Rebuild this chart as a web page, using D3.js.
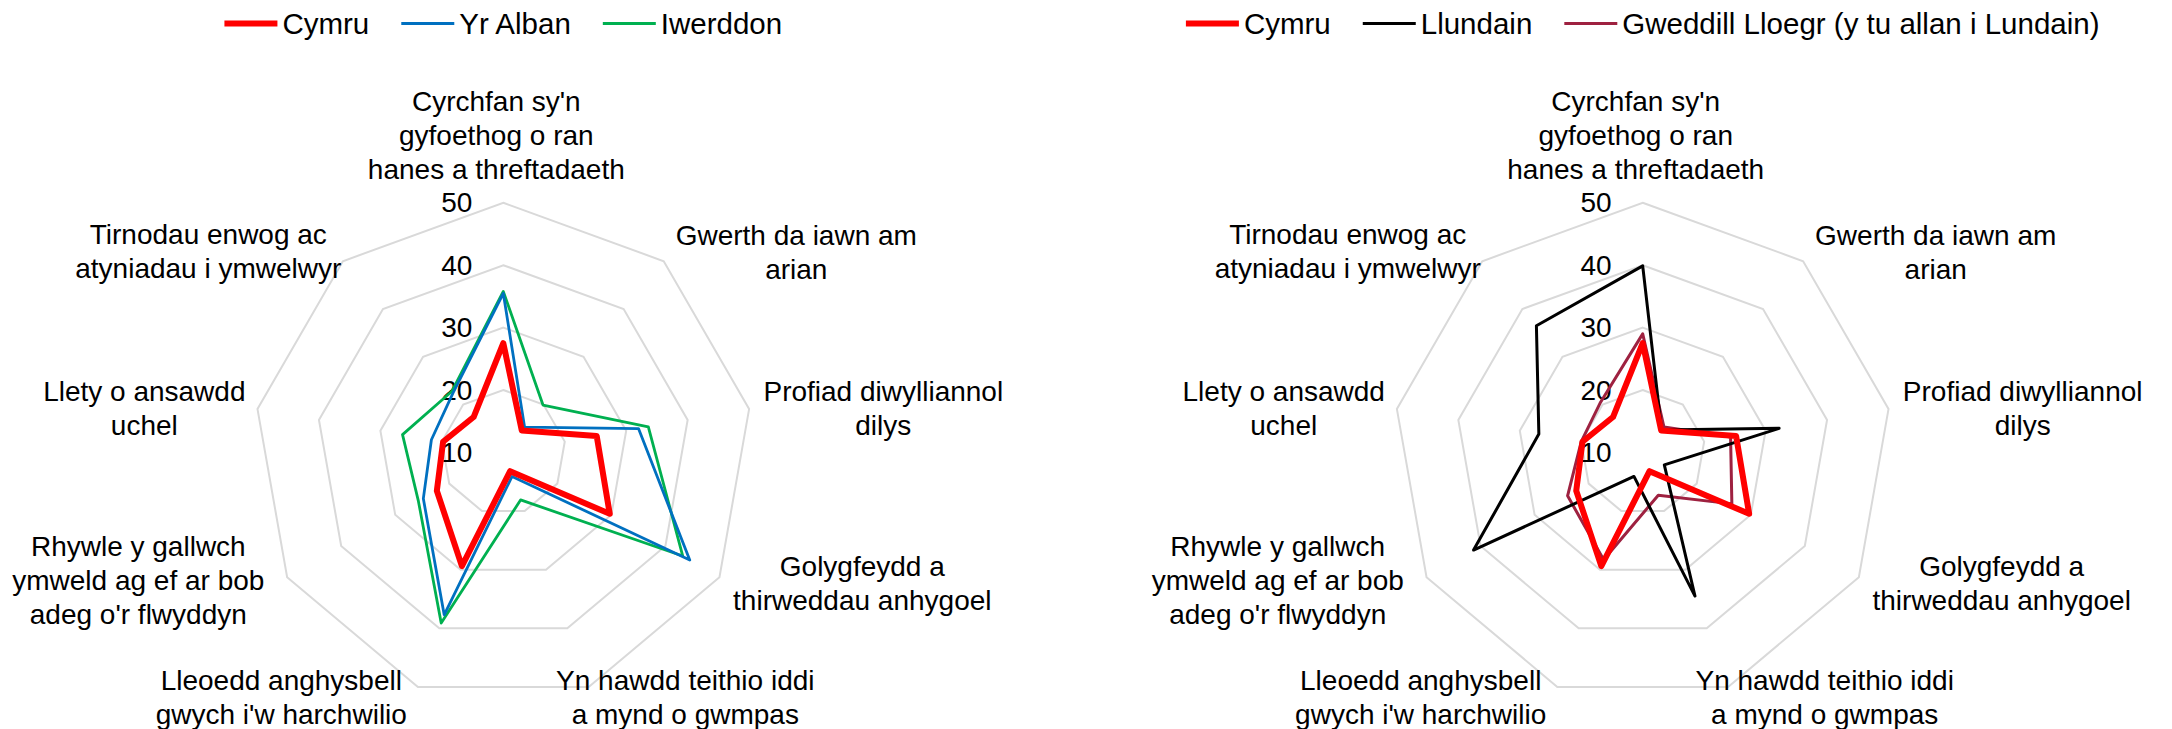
<!DOCTYPE html>
<html>
<head>
<meta charset="utf-8">
<script src="https://cdn.jsdelivr.net/npm/d3@7"></script>
<style>
  body { margin: 0; background: #fff; }
  text { font-family: "Liberation Sans", Arial, sans-serif; fill: #000; }
</style>
</head>
<body>
<svg id="chart"></svg>
<script>
// Axis categories (clockwise from the top)
const categories = [
    "Cyrchfan sy'n\ngyfoethog o ran\nhanes a threftadaeth",
    "Gwerth da iawn am\narian",
    "Profiad diwylliannol\ndilys",
    "Golygfeydd a\nthirweddau anhygoel",
    "Yn hawdd teithio iddi\na mynd o gwmpas",
    "Lleoedd anghysbell\ngwych i'w harchwilio",
    "Rhywle y gallwch\nymweld ag ef ar bob\nadeg o'r flwyddyn",
    "Llety o ansawdd\nuchel",
    "Tirnodau enwog ac\natyniadau i ymwelwyr"
];

const tickValues = [10, 20, 30, 40, 50];

// Series values, one per category
const cymru     = [27.5, 14.6, 25.2, 29.7, 13.2, 29.4, 22.3, 19.8, 17.4];
const yrAlban   = [35.5, 15.3, 32.0, 44.5, 14.1, 37.7, 24.8, 21.7, 22.5];
const iwerddon  = [35.8, 19.9, 33.6, 43.2, 18.1, 39.1, 25.7, 26.4, 22.8];
const llundain  = [39.9, 14.7, 32.2, 14.0, 34.5, 14.1, 41.3, 26.9, 36.5];
const gweddill  = [29.0, 15.3, 24.3, 26.5, 17.3, 28.3, 23.9, 20.0, 20.5];

// Chart setup
const W = 2172, H = 729;
const radius = 249.6;
const fontSize = 28;
const lineHeight = 34.3;

// Label block centres relative to the radar centre (layout only)
const labelOffset = [
    [-7, -317], [293, -200], [380, -44], [359, 131], [182, 245],
    [-222, 245], [-365, 128], [-359, -44], [-295, -201]
];

const leftSeries = [
    {name: "Cymru", values: cymru, color: "#FF0000", width: 6},
    {name: "Yr Alban", values: yrAlban, color: "#0070C0", width: 2.8},
    {name: "Iwerddon", values: iwerddon, color: "#00B050", width: 2.8}
];
const rightSeries = [
    {name: "Cymru", values: cymru, color: "#FF0000", width: 6},
    {name: "Llundain", values: llundain, color: "#000000", width: 3},
    {name: "Gweddill Lloegr (y tu allan i Lundain)", values: gweddill, color: "#9E2140", width: 3}
];

const svg = d3.select("#chart")
    .attr("width", W)
    .attr("height", H);

const rScale = d3.scaleLinear()
    .domain([10, 50])
    .range([0, radius]);

const angle = i => i * 2 * Math.PI / categories.length;

const radarLine = d3.lineRadial()
    .angle((d, i) => angle(i))
    .radius(d => rScale(d))
    .curve(d3.curveLinearClosed);

function drawRadar(cx, series) {
    const g = svg.append("g")
        .attr("transform", `translate(${cx}, 452.4)`);

    // grid rings
    tickValues.filter(t => t > 10).forEach(t => {
        g.append("path")
            .attr("d", radarLine(categories.map(() => t)))
            .attr("fill", "none")
            .attr("stroke", "#D9D9D9")
            .attr("stroke-width", 2);
    });

    // tick labels
    g.selectAll(".tick-label")
        .data(tickValues)
        .join("text")
        .attr("class", "tick-label")
        .attr("x", -31)
        .attr("y", d => -rScale(d))
        .attr("text-anchor", "end")
        .attr("dominant-baseline", "central")
        .style("font-size", fontSize + "px")
        .text(d => d);

    // category labels
    categories.forEach((c, i) => {
        const lines = c.split("\n");
        const [dx, dy] = labelOffset[i];
        const t = g.append("text")
            .attr("text-anchor", "middle")
            .style("font-size", fontSize + "px");
        lines.forEach((l, k) => {
            t.append("tspan")
                .attr("x", dx)
                .attr("y", dy + (k - (lines.length - 1) / 2) * lineHeight)
                .attr("dominant-baseline", "central")
                .text(l);
        });
    });

    // series lines (draw last series first so Cymru ends up on top)
    series.slice().reverse().forEach(s => {
        g.append("path")
            .attr("d", radarLine(s.values))
            .attr("fill", "none")
            .attr("stroke", s.color)
            .attr("stroke-width", s.width)
            .attr("stroke-linejoin", "round");
    });

    // legend, centred over the radar
    const leg = svg.append("g")
        .attr("transform", `translate(0, 23.5)`);
    const symLen = 53, symGap = 5, itemGap = 32;
    const items = series.map(s => {
        const t = leg.append("text")
            .attr("dominant-baseline", "central")
            .style("font-size", "29.5px")
            .text(s.name);
        return {s, t, w: t.node().getComputedTextLength()};
    });
    const total = d3.sum(items, d => symLen + symGap + d.w) + itemGap * (items.length - 1);
    let x = cx - total / 2;
    items.forEach(d => {
        leg.append("line")
            .attr("x1", x).attr("x2", x + symLen)
            .attr("y1", 0).attr("y2", 0)
            .attr("stroke", d.s.color)
            .attr("stroke-width", d.s.width);
        d.t.attr("x", x + symLen + symGap);
        x += symLen + symGap + d.w + itemGap;
    });
}

drawRadar(503.3, leftSeries);
drawRadar(1642.7, rightSeries);
</script>
</body>
</html>
